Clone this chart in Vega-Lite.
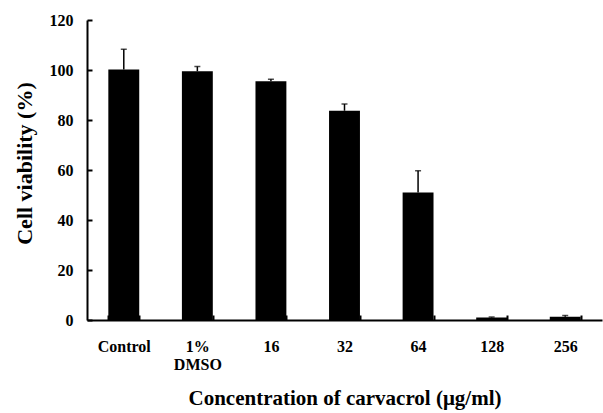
{
  "$schema": "https://vega.github.io/schema/vega-lite/v6.json",
  "autosize": "none",
  "padding": {"left": 87, "top": 20, "right": 1, "bottom": 93},
  "width": 515,
  "height": 300,
  "background": "white",
  "config": {
    "view": {"stroke": null},
    "font": "Liberation Serif"
  },
  "data": {
    "values": [
      {"group": "Control", "viability": 100.2, "upper": 108.3},
      {"group": "1% DMSO", "viability": 99.5, "upper": 101.4},
      {"group": "16", "viability": 95.5, "upper": 96.3},
      {"group": "32", "viability": 83.7, "upper": 86.4},
      {"group": "64", "viability": 51.0, "upper": 59.7},
      {"group": "128", "viability": 1.0, "upper": 1.2},
      {"group": "256", "viability": 1.3, "upper": 1.8}
    ]
  },
  "encoding": {
    "x": {
      "field": "group",
      "type": "nominal",
      "sort": null,
      "scale": {"paddingInner": 0.58, "paddingOuter": 0.29},
      "axis": {
        "title": "Concentration of carvacrol (μg/ml)",
        "titleFont": "Liberation Serif",
        "titleFontSize": 21,
        "titleFontWeight": "bold",
        "titleColor": "black",
        "titlePadding": 15,
        "labelAngle": 0,
        "labelFont": "Liberation Serif",
        "labelFontSize": 16,
        "labelFontWeight": "bold",
        "labelColor": "black",
        "labelPadding": 23,
        "labelLineHeight": 18,
        "labelExpr": "datum.value == '1% DMSO' ? ['1%', 'DMSO'] : datum.label",
        "tickBand": "extent",
        "tickSize": -5,
        "tickWidth": 2,
        "tickColor": "black",
        "domainColor": "black",
        "domainWidth": 2
      }
    }
  },
  "layer": [
    {
      "mark": {"type": "bar", "color": "black"},
      "encoding": {
        "y": {
          "field": "viability",
          "type": "quantitative",
          "scale": {"domain": [0, 120], "nice": false},
          "axis": {
            "title": "Cell viability (%)",
            "titleFont": "Liberation Serif",
            "titleFontSize": 22,
            "titleFontWeight": "bold",
            "titleColor": "black",
            "titlePadding": 13,
            "titleY": 143,
            "values": [0, 20, 40, 60, 80, 100, 120],
            "grid": false,
            "labelFont": "Liberation Serif",
            "labelFontSize": 16,
            "labelFontWeight": "bold",
            "labelColor": "black",
            "labelPadding": 19,
            "tickSize": -5,
            "tickWidth": 2,
            "tickColor": "black",
            "domainColor": "black",
            "domainWidth": 2
          }
        }
      }
    },
    {
      "mark": {"type": "rule", "color": "black", "strokeWidth": 1.5},
      "encoding": {
        "y": {"field": "viability", "type": "quantitative"},
        "y2": {"field": "upper"}
      }
    },
    {
      "mark": {"type": "tick", "color": "black", "thickness": 1.5, "size": 6},
      "encoding": {
        "y": {"field": "upper", "type": "quantitative"}
      }
    }
  ]
}
